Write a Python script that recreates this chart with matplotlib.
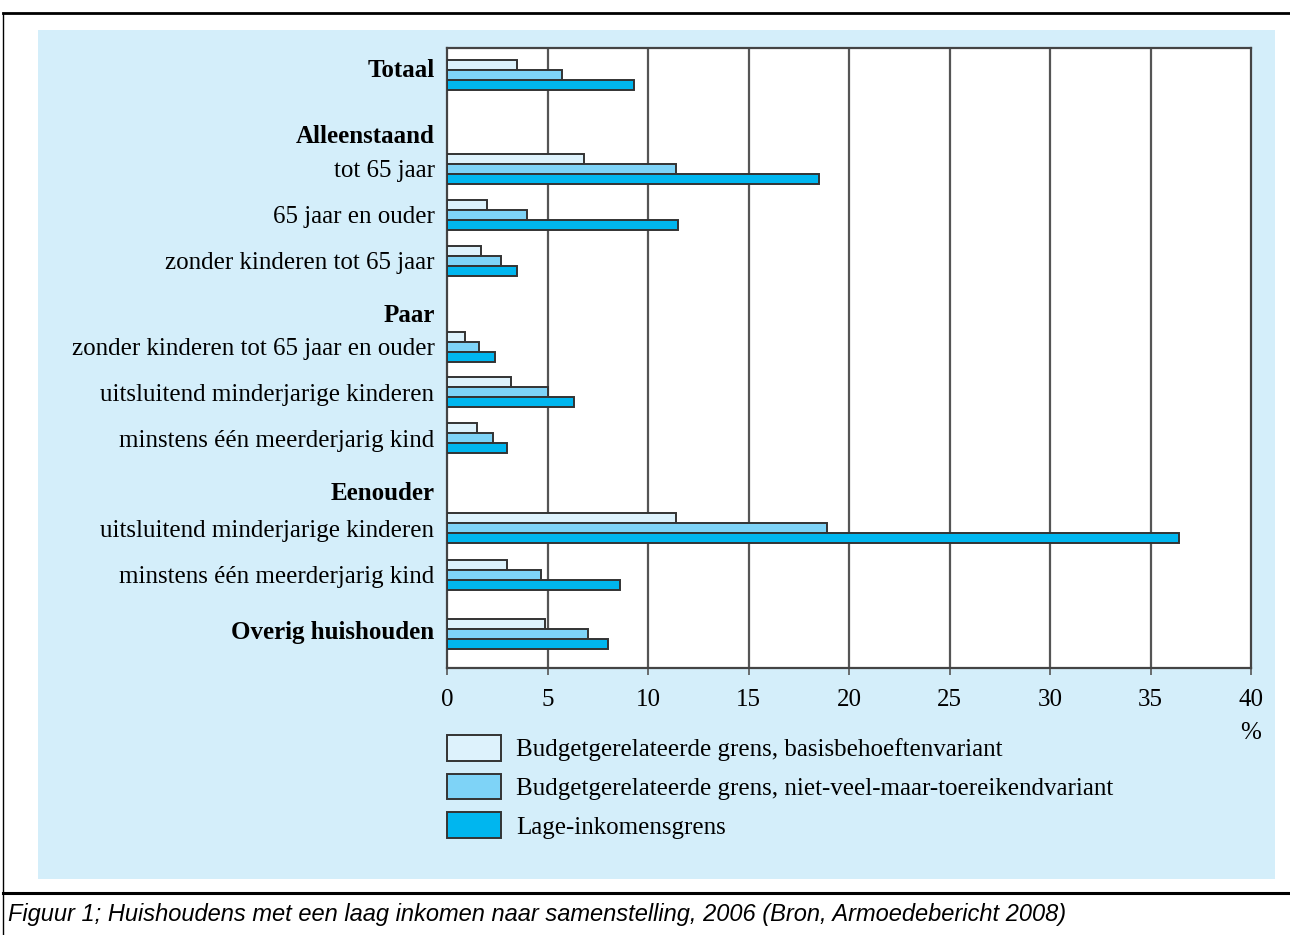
import numpy as np
import matplotlib
matplotlib.use('Agg')
import matplotlib.pyplot as plt
from matplotlib.patches import Rectangle
from matplotlib.lines import Line2D

# categorieen (van boven naar beneden), kopjes zonder staven
labels = ['Totaal', 'Alleenstaand', 'tot 65 jaar', '65 jaar en ouder',
          'zonder kinderen tot 65 jaar', 'Paar',
          'zonder kinderen tot 65 jaar en ouder',
          'uitsluitend minderjarige kinderen', 'minstens één meerderjarig kind',
          'Eenouder', 'uitsluitend minderjarige kinderen',
          'minstens één meerderjarig kind', 'Overig huishouden']
bold = [True, True, False, False, False, True, False, False, False, True, False, False, True]

# waarden in %, None = kopje
basis = [3.5, None, 6.8, 2.0, 1.7, None, 0.9, 3.2, 1.5, None, 11.4, 3.0, 4.9]
nietveel = [5.7, None, 11.4, 4.0, 2.7, None, 1.6, 5.0, 2.3, None, 18.9, 4.7, 7.0]
lage_ink = [9.3, None, 18.5, 11.5, 3.5, None, 2.4, 6.3, 3.0, None, 36.4, 8.6, 8.0]

legend_labels = ['Budgetgerelateerde grens, basisbehoeftenvariant',
                 'Budgetgerelateerde grens, niet-veel-maar-toereikendvariant',
                 'Lage-inkomensgrens']
colors = ['#DDF2FC', '#7ED3F7', '#00B6EF']

# verticale posities (layout, in px binnen de plot)
label_pos = [20, 86, 121, 167, 213, 265, 299, 344, 390, 443, 480, 527, 582]
bar_pos = [27, 86, 121, 167, 213, 265, 299, 344, 390, 443, 480, 527, 586]

W, H = 1290, 935
fig = plt.figure(figsize=(W / 100, H / 100), dpi=100)
fig.patch.set_facecolor('white')

# lichtblauw paneel
fig.patches.append(Rectangle((38 / W, 1 - 879 / H), (1275 - 38) / W, (879 - 30) / H,
                             transform=fig.transFigure, facecolor='#D4EEFA',
                             edgecolor='none', zorder=-10))
# kaderlijnen
fig.lines.append(Line2D([3 / W, 1], [1 - 13 / H, 1 - 13 / H], transform=fig.transFigure,
                        color='black', lw=2))
fig.lines.append(Line2D([3 / W, 3 / W], [1 - 13 / H, 0], transform=fig.transFigure,
                        color='black', lw=1))
fig.lines.append(Line2D([3 / W, 1], [1 - 893 / H, 1 - 893 / H], transform=fig.transFigure,
                        color='black', lw=2.2))

ax = fig.add_axes([447 / W, 1 - 668 / H, (1251 - 447) / W, (668 - 48) / H])
ax.set_zorder(5)
ax.set_facecolor('white')

bh = 10
series = [basis, nietveel, lage_ink]
offsets = [-bh, 0, bh]
for vals, off, col, lab in zip(series, offsets, colors, legend_labels):
    ys = [p + off for p, v in zip(bar_pos, vals) if v is not None]
    xs = [v for v in vals if v is not None]
    ax.barh(ys, xs, height=bh, color=col, edgecolor='#333333', linewidth=1.4,
            label=lab, zorder=3)

ax.set_xlim(0, 40)
ax.set_ylim(620, 0)
ax.set_xticks(np.arange(0, 41, 5))
for x in range(5, 40, 5):
    ax.axvline(x, color='#555555', lw=1.6, zorder=1)

serif = ['Liberation Serif', 'DejaVu Serif']
fs = 18
ax.set_yticks(label_pos)
ax.set_yticklabels(labels, family=serif, fontsize=fs)
for t, b in zip(ax.get_yticklabels(), bold):
    if b:
        t.set_fontweight('bold')
ax.tick_params(axis='y', length=0, pad=9)
ax.tick_params(axis='x', length=5, color='#555555', width=1.2, pad=10)
for t in ax.get_xticklabels():
    t.set_family(serif)
    t.set_fontsize(fs)
for s in ax.spines.values():
    s.set_color('#444444')
    s.set_linewidth(1.6)

ax.text(1.0, -0.105, '%', transform=ax.transAxes, ha='center', va='center',
        family=serif, fontsize=fs)

leg = ax.legend(loc='upper left', bbox_to_anchor=(0.0, -0.108), frameon=False,
                prop={'family': serif, 'size': fs}, handlelength=2.16,
                handleheight=1.2, labelspacing=0.5, handletextpad=0.6,
                borderaxespad=0, borderpad=0)

fig.text(8 / W, 1 - 915 / H,
         'Figuur 1; Huishoudens met een laag inkomen naar samenstelling, 2006 (Bron, Armoedebericht 2008)',
         family=['Liberation Sans', 'DejaVu Sans'], style='italic', fontsize=17,
         ha='left', va='center')

fig.savefig('out.png', dpi=100)
